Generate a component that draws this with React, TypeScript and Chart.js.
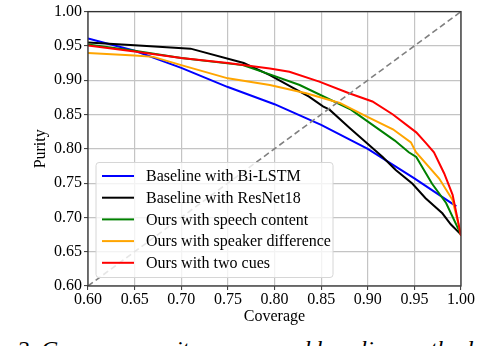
import React, { useEffect, useRef } from "react";
import { Chart, registerables } from "chart.js";

Chart.register(...registerables);

const seriesNames = [
  "Baseline with Bi-LSTM",
  "Baseline with ResNet18",
  "Ours with speech content",
  "Ours with speaker difference",
  "Ours with two cues",
];
const seriesColors = ["#0000ff", "#000000", "#008000", "#ffa500", "#ff0000"];

const blueX = [0.6, 0.65, 0.7, 0.75, 0.8, 0.85, 0.9, 0.95, 0.995];
const blueY = [0.961, 0.943, 0.918, 0.89, 0.865, 0.835, 0.8, 0.757, 0.716];

const blackX = [0.6, 0.65, 0.71, 0.767, 0.795, 0.837, 0.852, 0.859, 0.88, 0.898, 0.916, 0.93, 0.948, 0.962, 0.98, 0.989, 1.0];
const blackY = [0.955, 0.951, 0.946, 0.925, 0.9075, 0.876, 0.862, 0.857, 0.831, 0.8095, 0.788, 0.769, 0.749, 0.728, 0.706, 0.69, 0.675];

const greenX = [0.6, 0.65, 0.7, 0.766, 0.795, 0.827, 0.882, 0.929, 0.944, 0.952, 0.969, 0.984, 1.0];
const greenY = [0.952, 0.943, 0.9325, 0.922, 0.9085, 0.893, 0.857, 0.812, 0.795, 0.788, 0.749, 0.721, 0.675];

const orangeX = [0.6, 0.65, 0.67, 0.7, 0.75, 0.795, 0.834, 0.87, 0.898, 0.927, 0.9463, 0.9517, 0.9766, 0.9908, 1.0];
const orangeY = [0.9397, 0.936, 0.934, 0.922, 0.9027, 0.893, 0.881, 0.8668, 0.8477, 0.8285, 0.8094, 0.795, 0.7566, 0.7256, 0.675];

const redX = [0.6, 0.65, 0.7, 0.75, 0.795, 0.816, 0.848, 0.88, 0.905, 0.927, 0.952, 0.962, 0.971, 0.982, 0.991, 1.0];
const redY = [0.9506, 0.942, 0.9325, 0.925, 0.917, 0.9124, 0.898, 0.881, 0.869, 0.85, 0.824, 0.809, 0.795, 0.764, 0.733, 0.673];

const diagX = [0.6, 1.0];
const diagY = [0.6, 1.0];

const axisMin = 0.6;
const axisMax = 1.0;
const tickStep = 0.05;
const xTitle = "Coverage";
const yTitle = "Purity";
const captionText = "2. Coverage-purity curves and baseline methods";

const FONT = "'Liberation Serif', 'Times New Roman', serif";

const zip = (xs: number[], ys: number[]) => xs.map((x, i) => ({ x, y: ys[i] }));

const frameAndLegend = {
  id: "frameAndLegend",
  afterDatasetsDraw(chart: any) {
    const { ctx, chartArea } = chart;
    const { left, right, top, bottom } = chartArea;
    ctx.save();
    // frame
    ctx.strokeStyle = "#333333";
    ctx.lineWidth = 1.3;
    ctx.strokeRect(left, top, right - left, bottom - top);

    // legend
    const bx = 96, by = 162.5, bw = 237, bh = 115;
    const r = 3;
    ctx.beginPath();
    ctx.moveTo(bx + r, by);
    ctx.lineTo(bx + bw - r, by);
    ctx.quadraticCurveTo(bx + bw, by, bx + bw, by + r);
    ctx.lineTo(bx + bw, by + bh - r);
    ctx.quadraticCurveTo(bx + bw, by + bh, bx + bw - r, by + bh);
    ctx.lineTo(bx + r, by + bh);
    ctx.quadraticCurveTo(bx, by + bh, bx, by + bh - r);
    ctx.lineTo(bx, by + r);
    ctx.quadraticCurveTo(bx, by, bx + r, by);
    ctx.closePath();
    ctx.fillStyle = "rgba(255,255,255,0.8)";
    ctx.fill();
    ctx.strokeStyle = "#d6d6d6";
    ctx.lineWidth = 1;
    ctx.stroke();

    ctx.font = `16px ${FONT}`;
    ctx.textBaseline = "middle";
    ctx.textAlign = "left";
    const ds = chart.data.datasets.filter((d: any) => d.inLegend);
    ds.forEach((d: any, i: number) => {
      const y = by + 13.5 + i * 21.7;
      ctx.strokeStyle = d.borderColor;
      ctx.lineWidth = 2;
      ctx.beginPath();
      ctx.moveTo(102, y);
      ctx.lineTo(134, y);
      ctx.stroke();
      ctx.fillStyle = "#000";
      ctx.fillText(d.label, 146, y + 1);
    });
    ctx.restore();
  },
};

export default function App() {
  const ref = useRef<HTMLCanvasElement | null>(null);

  useEffect(() => {
    if (!ref.current) return;
    const series = [
      [blueX, blueY],
      [blackX, blackY],
      [greenX, greenY],
      [orangeX, orangeY],
      [redX, redY],
    ];
    const datasets: any[] = series.map(([xs, ys], i) => ({
      label: seriesNames[i],
      data: zip(xs, ys),
      borderColor: seriesColors[i],
      backgroundColor: seriesColors[i],
      borderWidth: 2,
      pointRadius: 0,
      fill: false,
      tension: 0,
      order: 5 - i,
      inLegend: true,
    }));
    datasets.push({
      label: "diag",
      data: zip(diagX, diagY),
      borderColor: "#808080",
      borderWidth: 1.6,
      borderDash: [6, 3.5],
      pointRadius: 0,
      fill: false,
      order: 0,
      inLegend: false,
    });

    const tickFont = { family: FONT, size: 16 };
    const chart = new Chart(ref.current, {
      type: "line",
      data: { datasets },
      plugins: [frameAndLegend],
      options: {
        animation: false,
        responsive: false,
        maintainAspectRatio: false,
        events: [],
        layout: { padding: { left: 0, right: 37, top: 8, bottom: 0 } },
        plugins: { legend: { display: false }, tooltip: { enabled: false } },
        scales: {
          x: {
            type: "linear",
            min: axisMin,
            max: axisMax,
            afterFit: (s: any) => {
              s.height = 44;
            },
            afterBuildTicks: (s: any) => {
              const t = [];
              for (let v = axisMin; v <= axisMax + 1e-9; v += tickStep) t.push({ value: Math.round(v * 100) / 100 });
              s.ticks = t;
            },
            ticks: {
              font: tickFont,
              color: "#000",
              padding: 0,
              maxRotation: 0,
              autoSkip: false,
              callback: (v: any) => Number(v).toFixed(2),
            },
            grid: { color: "#c4c4c4", lineWidth: 1.2, tickLength: 4, tickColor: "#333", tickWidth: 1 },
            border: { display: false },
            title: { display: true, text: xTitle, font: tickFont, color: "#000", padding: { top: 0, bottom: 3.4 } },
          },
          y: {
            type: "linear",
            min: axisMin,
            max: axisMax,
            afterFit: (s: any) => {
              s.width = 88;
            },
            afterBuildTicks: (s: any) => {
              const t = [];
              for (let v = axisMin; v <= axisMax + 1e-9; v += tickStep) t.push({ value: Math.round(v * 100) / 100 });
              s.ticks = t;
            },
            ticks: {
              font: tickFont,
              color: "#000",
              padding: 2,
              autoSkip: false,
              callback: (v: any) => Number(v).toFixed(2),
            },
            grid: { color: "#c4c4c4", lineWidth: 1.2, tickLength: 4, tickColor: "#333", tickWidth: 1 },
            border: { display: false },
            title: { display: true, text: yTitle, font: tickFont, color: "#000", padding: { top: 31.4, bottom: 0 } },
          },
        },
      } as any,
    });
    return () => chart.destroy();
  }, []);

  return (
    <div style={{ position: "fixed", left: 0, top: 0, width: 498, height: 346, overflow: "hidden", background: "#fff" }}>
      <canvas ref={ref} width={498} height={330} style={{ display: "block", width: 498, height: 330 }} />
      <div
        style={{
          position: "absolute",
          left: 17,
          top: 337,
          fontFamily: FONT,
          fontStyle: "italic",
          fontSize: 24,
          lineHeight: "24px",
          whiteSpace: "nowrap",
          color: "#000",
        }}
      >
        {captionText}
      </div>
    </div>
  );
}
